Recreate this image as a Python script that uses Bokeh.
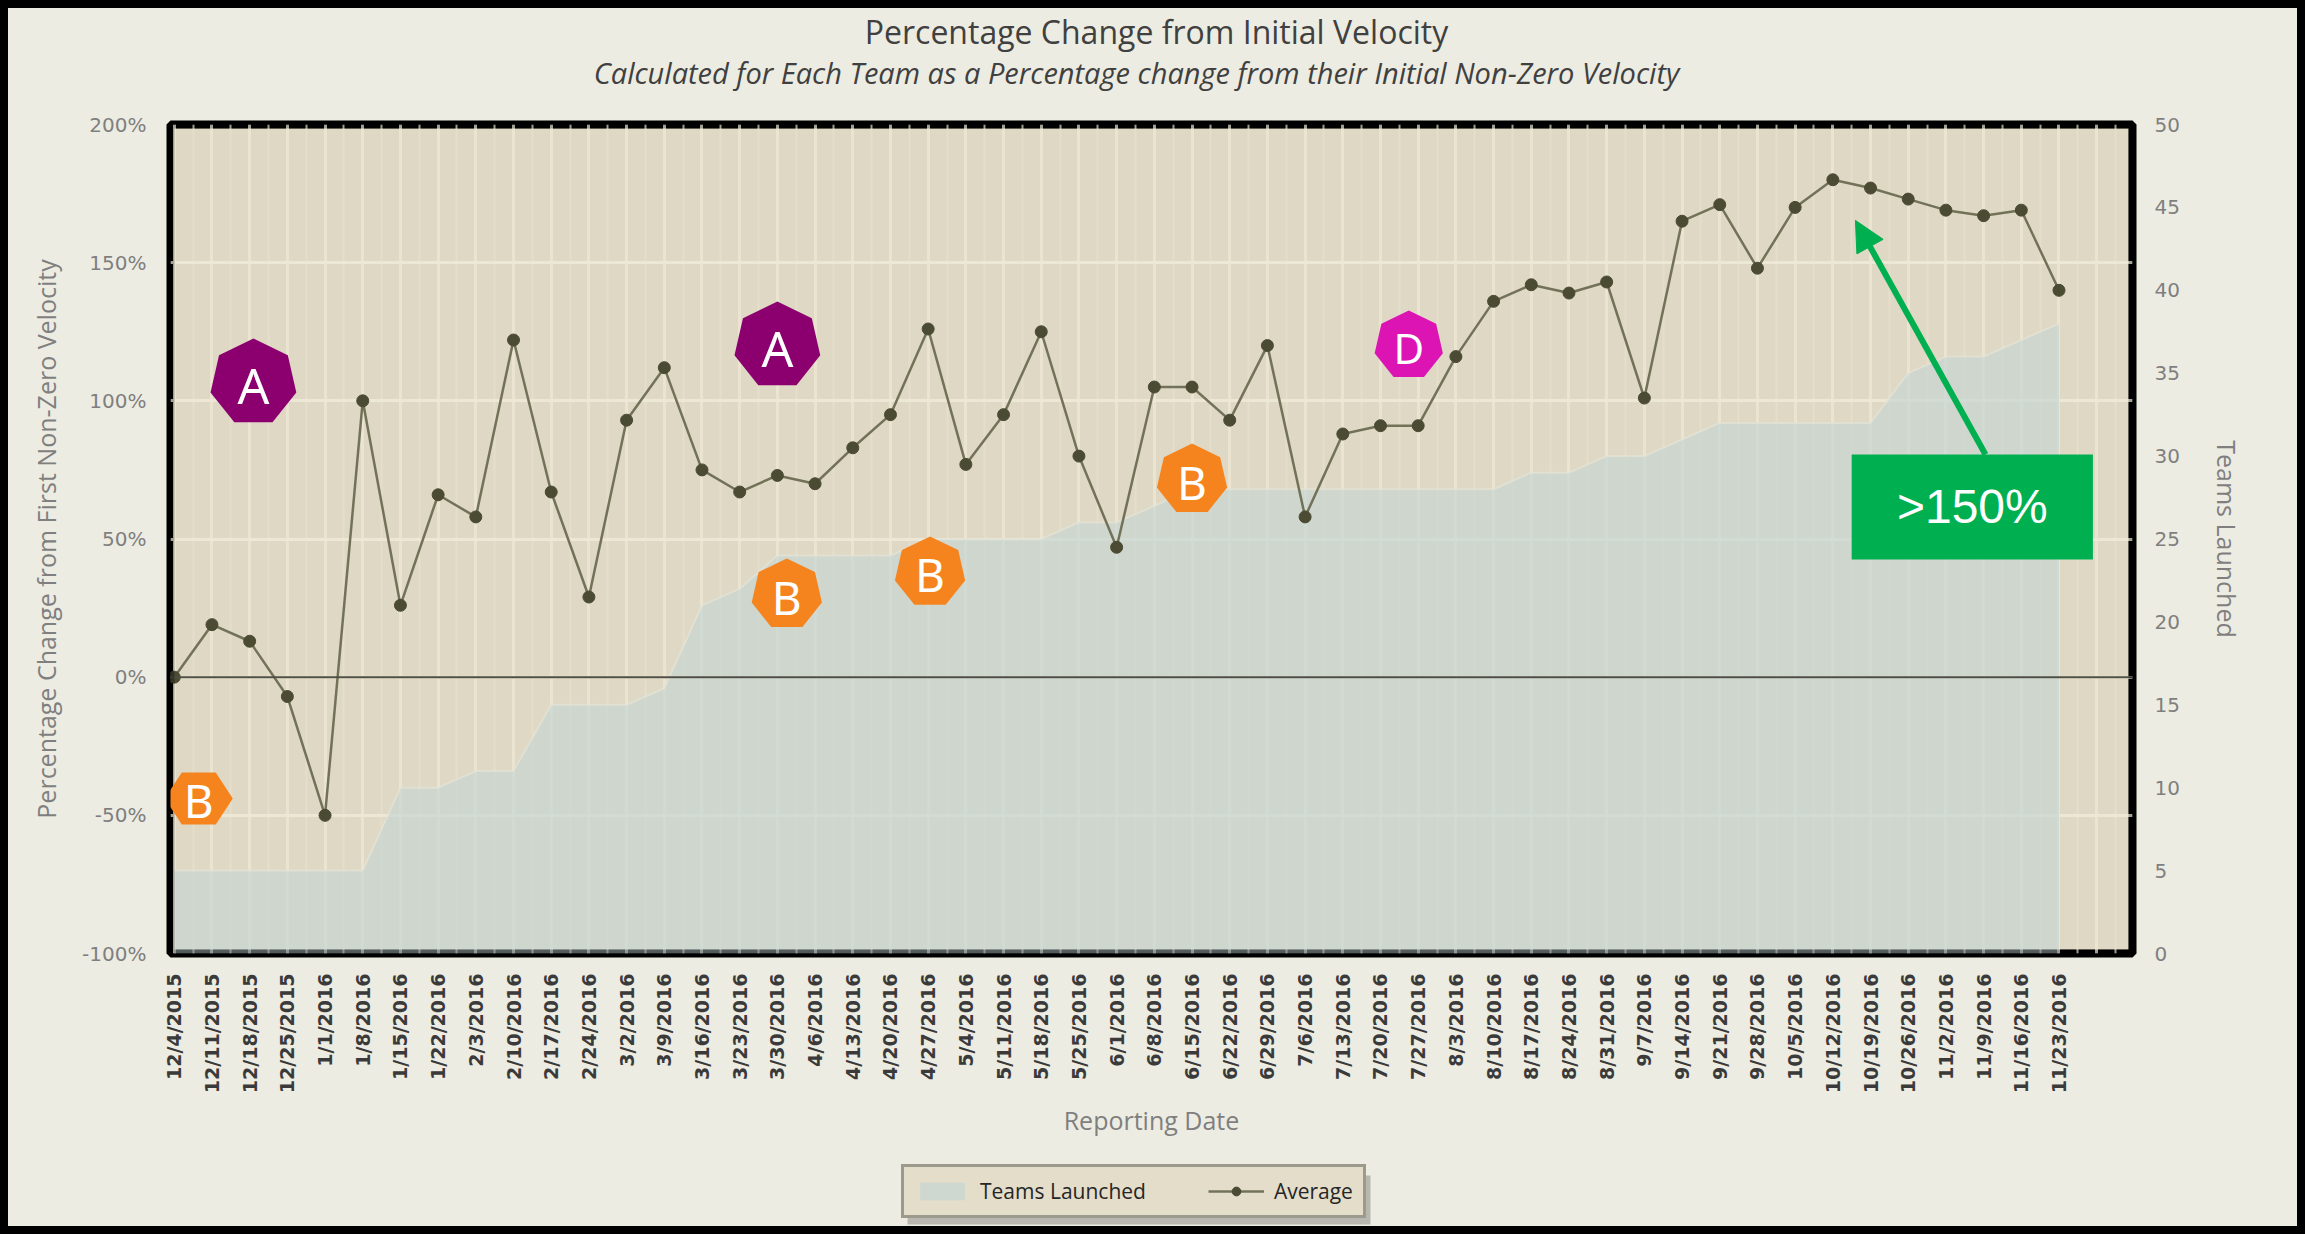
from math import pi, cos, sin
from bokeh.plotting import figure
from bokeh.layouts import column
from bokeh.models import (Range1d, LinearAxis, FixedTicker, PrintfTickFormatter, Span, Label,
                          BoxAnnotation, PolyAnnotation, Arrow, NormalHead, Legend, LegendItem,
                          ColumnDataSource)
from bokeh.embed import file_html
from bokeh.resources import INLINE

# ---------------- data ----------------
dates = ["12/4/2015", "12/11/2015", "12/18/2015", "12/25/2015", "1/1/2016", "1/8/2016",
         "1/15/2016", "1/22/2016", "2/3/2016", "2/10/2016", "2/17/2016", "2/24/2016",
         "3/2/2016", "3/9/2016", "3/16/2016", "3/23/2016", "3/30/2016", "4/6/2016",
         "4/13/2016", "4/20/2016", "4/27/2016", "5/4/2016", "5/11/2016", "5/18/2016",
         "5/25/2016", "6/1/2016", "6/8/2016", "6/15/2016", "6/22/2016", "6/29/2016",
         "7/6/2016", "7/13/2016", "7/20/2016", "7/27/2016", "8/3/2016", "8/10/2016",
         "8/17/2016", "8/24/2016", "8/31/2016", "9/7/2016", "9/14/2016", "9/21/2016",
         "9/28/2016", "10/5/2016", "10/12/2016", "10/19/2016", "10/26/2016", "11/2/2016",
         "11/9/2016", "11/16/2016", "11/23/2016"]

average_pct = [0, 19, 13, -7, -50, 100, 26, 66, 58, 122, 67, 29, 93, 112, 75, 67, 73, 70,
               83, 95, 126, 77, 95, 125, 80, 47, 105, 105, 93, 120, 58, 88, 91, 91, 116,
               136, 142, 139, 143, 101, 165, 171, 148, 170, 180, 177, 173, 169, 167, 169, 140]

teams_launched = [5, 5, 5, 5, 5, 5, 10, 10, 11, 11, 15, 15, 15, 16, 21, 22, 24, 24, 24, 24,
                  25, 25, 25, 25, 26, 26, 27, 28, 28, 28, 28, 28, 28, 28, 28, 28, 29, 29,
                  30, 30, 31, 32, 32, 32, 32, 32, 35, 36, 36, 37, 38]

pct_ticks = [-100, -50, 0, 50, 100, 150, 200]
team_ticks = [0, 5, 10, 15, 20, 25, 30, 35, 40, 45, 50]

title_text = "Percentage Change from Initial Velocity"
subtitle_text = "Calculated for Each Team as a Percentage change from their Initial Non-Zero Velocity"

# callout badges (letter, category position, percent value)
badge_letters = ["A", "A", "D", "B", "B", "B", "B"]
badge_x = [2.1, 16.0, 32.75, 0.65, 16.25, 20.05, 27.0]
badge_y = [106.6, 120.0, 120.0, -43.9, 29.9, 37.9, 71.5]

# ">150%" callout
callout_text = ">150%"
callout_box = dict(left=44.5, right=50.9, top=80.6, bottom=42.6)
arrow_from = (48.05, 80.6)
arrow_to = (44.6, 165.3)

# ---------------- layout (root placed at 8px page margin) ----------------
W = 2289
H_T, H_M, H_L = 90, 1050, 78          # title strip, main chart, legend strip
BL, FR = 162, 2124
BT = 116 - H_T
FB = 945 - H_T
BR, BB = W - FR, H_M - FB
FW, FH = FR - BL, FB - BT
X0, X1 = -0.1, 51.95
Y0, Y1 = -100, 200
DX = (X1 - X0) / FW
DY = (Y1 - Y0) / FH

PAGE_BG = "#EDECE2"
PLOT_BG = "#DFD8C4"
GREEN = "#00B050"
AREA_FILL, AREA_ALPHA = "#C3D5D3", 0.62
LINE_C, MARK_C = "#727259", "#4B4B33"


def strip(height):
    # frame spans the same columns as the main chart; x data = pixels from frame left
    f = figure(width=W, height=height, output_backend="svg", toolbar_location=None,
               x_range=Range1d(0, FW), y_range=Range1d(0, height),
               x_axis_type=None, y_axis_type=None,
               min_border_left=BL, min_border_right=BR, min_border_top=0, min_border_bottom=0)
    f.border_fill_color = PAGE_BG
    f.background_fill_color = PAGE_BG
    f.outline_line_color = None
    f.grid.visible = False
    return f


# ---- title strip ----
tfig = strip(H_T)
tfig.add_layout(Label(x=1148 - BL, y=H_T - 23, text=title_text, text_align="center",
                      text_baseline="middle", text_font="Open Sans", text_font_size="32px",
                      text_color="#404040"))
tfig.add_layout(Label(x=1128 - BL, y=H_T - 64, text=subtitle_text, text_align="center",
                      text_baseline="middle", text_font="Open Sans", text_font_style="italic",
                      text_font_size="29px", text_color="#404040"))

# ---- main chart ----
p = figure(width=W, height=H_M, output_backend="svg", toolbar_location=None,
           x_range=Range1d(X0, X1), y_range=Range1d(Y0, Y1),
           min_border_left=BL, min_border_right=BR, min_border_top=BT, min_border_bottom=BB)
p.border_fill_color = PAGE_BG
p.background_fill_color = PLOT_BG
p.outline_line_color = "#000000"
p.outline_line_width = 8
p.extra_y_ranges = {"teams": Range1d(0, 50)}

p.xgrid.ticker = FixedTicker(ticks=list(range(0, 52)),
                             minor_ticks=[i + 0.5 for i in range(-1, 52)])
p.xgrid.grid_line_color = "#EAE4D1"
p.xgrid.grid_line_width = 3
p.xgrid.minor_grid_line_color = "#E5DECA"
p.xgrid.minor_grid_line_width = 2
p.ygrid.ticker = FixedTicker(ticks=pct_ticks)
p.ygrid.grid_line_color = "#EDE7D5"
p.ygrid.grid_line_width = 3

src = ColumnDataSource(dict(x=list(range(len(dates))), avg=average_pct, teams=teams_launched,
                            zero=[0] * len(dates)))
p.varea(x="x", y1="zero", y2="teams", source=src, y_range_name="teams",
        fill_color=AREA_FILL, fill_alpha=AREA_ALPHA)
p.line(x="x", y="teams", source=src, y_range_name="teams", line_color="#E6E4D6",
       line_width=2, line_alpha=0.7)
p.add_layout(Span(location=0, dimension="width", line_color="#4F4F45", line_width=2))
p.line(x="x", y="avg", source=src, line_color=LINE_C, line_width=2.5)
p.scatter(x="x", y="avg", source=src, size=12, fill_color=MARK_C, line_color=MARK_C)

# inner half of the thick black frame, drawn over the area and grid
p.add_layout(BoxAnnotation(fill_alpha=0, line_color="#000000", line_width=8))

p.xaxis.ticker = FixedTicker(ticks=list(range(len(dates))))
p.xaxis.major_label_overrides = {i: d for i, d in enumerate(dates)}
p.xaxis.major_label_orientation = pi / 2
p.xaxis.major_label_text_font = "DejaVu Sans"
p.xaxis.major_label_text_font_style = "bold"
p.xaxis.major_label_text_font_size = "19px"
p.xaxis.major_label_text_color = "#3A3A3A"
p.xaxis.major_label_standoff = 20
p.xaxis.axis_label = "Reporting Date"
p.xaxis.axis_label_standoff = 7

p.yaxis.ticker = FixedTicker(ticks=pct_ticks)
p.yaxis.formatter = PrintfTickFormatter(format="%d%%")
p.yaxis.major_label_standoff = 24
p.yaxis.axis_label = "Percentage Change from First Non-Zero Velocity"
p.yaxis.axis_label_standoff = 16

raxis = LinearAxis(y_range_name="teams", ticker=FixedTicker(ticks=team_ticks),
                   axis_label="Teams Launched")
raxis.major_label_standoff = 22
raxis.axis_label_standoff = 27
p.add_layout(raxis, "right")

for ax in [p.xaxis[0], p.yaxis[0], raxis]:
    ax.axis_line_color = None
    ax.major_tick_line_color = None
    ax.minor_tick_line_color = None
    ax.major_tick_out = 0
    ax.major_tick_in = 0
    ax.axis_label_text_font = "Open Sans"
    ax.axis_label_text_font_style = "normal"
    ax.axis_label_text_font_size = "25px"
    ax.axis_label_text_color = "#7F7F7F"
for ax in [p.yaxis[0], raxis]:
    ax.major_label_text_font = "DejaVu Sans"
    ax.major_label_text_font_size = "20px"
    ax.major_label_text_color = "#7F7F7F"


def ngon(cx, cy, rx, ry, n, rot):
    xs = [cx + rx * cos(rot + 2 * pi * k / n) * DX for k in range(n)]
    ys = [cy + ry * sin(rot + 2 * pi * k / n) * DY for k in range(n)]
    return xs, ys


badge_style = {"A": ("#8B006E", 44, 44, 7, pi / 2, "50px"),
               "D": ("#DD14B4", 35, 35, 7, pi / 2, "42px"),
               "B": ("#F5841F", 36, 36, 7, pi / 2, "46px")}
for i, (letter, bx, by) in enumerate(zip(badge_letters, badge_x, badge_y)):
    color, rx, ry, n, rot, fs = badge_style[letter]
    if i == 3:
        rx, ry, n, rot = 34, 30, 6, 0.0
    xs, ys = ngon(bx, by, rx, ry, n, rot)
    p.add_layout(PolyAnnotation(xs=xs, ys=ys, fill_color=color, fill_alpha=1, line_color=None))
    p.add_layout(Label(x=bx, y=by, text=letter, text_align="center", text_baseline="middle",
                       text_font="Noto Sans", text_font_size=fs, text_color="#FFFFFF",
                       y_offset=-2))

p.add_layout(Arrow(end=NormalHead(size=30, fill_color=GREEN, line_color=GREEN),
                   x_start=arrow_from[0], y_start=arrow_from[1], x_end=arrow_to[0],
                   y_end=arrow_to[1], line_color=GREEN, line_width=6))
p.add_layout(BoxAnnotation(fill_color=GREEN, fill_alpha=1, line_color=None, **callout_box))
p.add_layout(Label(x=(callout_box["left"] + callout_box["right"]) / 2,
                   y=(callout_box["top"] + callout_box["bottom"]) / 2, text=callout_text,
                   text_align="center", text_baseline="middle", text_font="Liberation Sans",
                   text_font_size="48px", text_color="#FFFFFF"))

# ---- legend strip ----
lfig = strip(H_L)
LG_L, LG_TOP, LG_W, LG_H = 893 - BL, 21, 463, 49     # x from frame left, y from strip top
lfig.add_layout(BoxAnnotation(left=LG_L + 6, right=LG_L + LG_W + 6, top=H_L - LG_TOP - 6,
                              bottom=H_L - LG_TOP - LG_H - 6, fill_color="#8E8E86",
                              fill_alpha=0.55, line_color=None))
# legend proxies (one undefined point each, so nothing is drawn in the strip)
nan = float("nan")
proxy = ColumnDataSource(dict(x=[nan], y=[nan], z=[nan]))
r_area = lfig.varea(x="x", y1="z", y2="y", source=proxy, fill_color=AREA_FILL,
                    fill_alpha=AREA_ALPHA)
r_line = lfig.line(x="x", y="y", source=proxy, line_color=LINE_C, line_width=2.5)
r_mark = lfig.scatter(x="x", y="y", source=proxy, size=12, fill_color=MARK_C, line_color=MARK_C)
legend = Legend(items=[LegendItem(label="Teams Launched", renderers=[r_area]),
                       LegendItem(label="Average", renderers=[r_line, r_mark])],
                location=(LG_L, H_L - LG_TOP - LG_H), orientation="horizontal", margin=0,
                padding=10, spacing=62, glyph_width=56, glyph_height=22, label_standoff=10,
                label_text_font="Open Sans", label_text_font_size="21px",
                label_text_color="#262626", border_line_color="#55554F", border_line_width=3,
                background_fill_color="#E3DDCA", background_fill_alpha=1)
lfig.add_layout(legend, "center")

root = column(tfig, p, lfig, spacing=0,
              styles={"margin": "8px", "outline": "8px solid #000000",
                      "background-color": PAGE_BG})

open("out.html", "w").write(file_html(root, INLINE))
